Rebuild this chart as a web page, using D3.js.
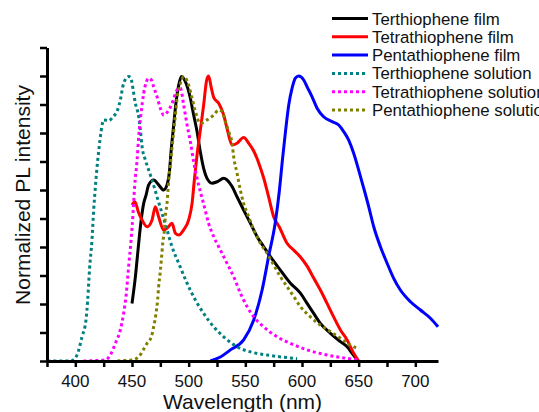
<!DOCTYPE html>
<html>
<head>
<meta charset="utf-8">
<script src="https://cdn.jsdelivr.net/npm/d3@7"></script>
<style>
  html, body { margin: 0; padding: 0; background: #fff; }
  svg { display: block; font-family: "Liberation Sans", Arial, sans-serif; }
</style>
</head>
<body>
<div id="chart"></div>
<script>
// ── Data (wavelength nm, normalized intensity) ──
const SERIES_NAMES = [
  "Terthiophene film",
  "Tetrathiophene film",
  "Pentathiophene film",
  "Terthiophene solution",
  "Tetrathiophene solution",
  "Pentathiophene solution"
];
const SERIES_COLORS = ["#000000", "#ff0000", "#0000ff", "#008080", "#ff00ff", "#808000"];
const SERIES_DOTTED = [false, false, false, true, true, true];

const X_TICKS = [375, 400, 425, 450, 475, 500, 525, 550, 575, 600, 625, 650, 675, 700];
const X_LABELS = [400, 450, 500, 550, 600, 650, 700];
const Y_TICKS = [0, 0.1, 0.2, 0.3, 0.4, 0.5, 0.6, 0.7, 0.8, 0.9, 1.0, 1.1];

const terFilm = [
  [450, 0.202], [453, 0.296], [455.3, 0.389], [457.4, 0.471], [460.3, 0.553],
  [462.4, 0.582], [464.7, 0.618], [469.1, 0.635], [473.5, 0.618], [477.9, 0.6],
  [480.9, 0.618], [483, 0.664], [484.7, 0.746], [486.8, 0.828], [488.9, 0.91],
  [491.2, 0.968], [493.6, 0.998], [497.1, 0.98], [501.5, 0.922], [504.4, 0.863],
  [507.4, 0.805], [510.3, 0.734], [513.2, 0.676], [516.2, 0.641], [520.6, 0.624],
  [525.1, 0.629], [530.9, 0.641], [533.9, 0.635], [538.3, 0.612], [542.7, 0.576],
  [548.5, 0.53], [554.5, 0.483], [560.4, 0.436], [566.2, 0.401], [572.1, 0.366],
  [580.9, 0.319], [589.8, 0.273], [598.6, 0.238], [604.5, 0.202], [610.3, 0.167],
  [616.2, 0.132], [625.1, 0.097], [633.9, 0.068], [639.8, 0.05], [644.2, 0.027],
  [648.6, 0.004]
];
const tetraFilm = [
  [450, 0.547], [452.6, 0.559], [455.6, 0.523], [458.9, 0.495], [463.3, 0.471],
  [467.7, 0.495], [470.6, 0.541], [473.5, 0.506], [477.9, 0.46], [481.2, 0.467],
  [485.3, 0.483], [488.3, 0.448], [491.2, 0.442], [495.6, 0.46], [500, 0.495],
  [503, 0.553], [505, 0.635], [507.4, 0.723], [510.3, 0.81], [513.2, 0.898],
  [515.9, 0.986], [517.6, 1.0], [519.8, 0.962], [522.1, 0.925], [526.5, 0.904],
  [530.9, 0.863], [534.2, 0.81], [538.3, 0.758], [542.7, 0.764], [548.5, 0.784],
  [553, 0.764], [557.4, 0.737], [561.8, 0.695], [566.2, 0.642], [570.6, 0.575],
  [575, 0.506], [580, 0.47], [586.8, 0.413], [592.7, 0.389], [598.6, 0.365],
  [604.5, 0.333], [610.3, 0.291], [616.2, 0.249], [622.1, 0.202], [628, 0.154],
  [633.9, 0.109], [639.8, 0.074], [645.6, 0.027], [650, 0]
];
const pentaFilm = [
  [519.1, 0], [528, 0.014], [536.8, 0.039], [548.5, 0.074], [557.4, 0.144],
  [564.8, 0.249], [570.6, 0.368], [576.5, 0.488], [580.1, 0.6], [582.7, 0.705],
  [585.4, 0.804], [588.3, 0.898], [591.3, 0.958], [594.2, 0.993], [597.1, 1.0],
  [601.5, 0.986], [604.5, 0.962], [608.9, 0.927], [613.3, 0.887], [619.1, 0.857],
  [626.6, 0.84], [632.4, 0.828], [636.8, 0.805], [641.2, 0.775], [645.6, 0.729],
  [650, 0.67], [654.5, 0.606], [658.9, 0.541], [663.3, 0.471], [669.2, 0.401],
  [675.1, 0.343], [680.9, 0.29], [686.8, 0.249], [695.7, 0.208], [704.5, 0.179],
  [713.3, 0.15], [720, 0.12]
];
const terSol = [
  [375.3, 0], [395.6, 0], [398.2, 0.004], [401.5, 0.021], [405.9, 0.085],
  [409.4, 0.144], [410.9, 0.214], [412.6, 0.326], [414.7, 0.425], [416.2, 0.53],
  [417.7, 0.612], [419.2, 0.682], [420.9, 0.747], [422.7, 0.805], [425, 0.846],
  [429.4, 0.843], [433.3, 0.857], [437.3, 0.881], [439.7, 0.916], [442.6, 0.974],
  [447, 0.998], [448.5, 0.996], [453, 0.904], [455.9, 0.857], [457.4, 0.81],
  [458.9, 0.752], [461.8, 0.705], [464.7, 0.67], [467.7, 0.635], [472.1, 0.576],
  [476.5, 0.518], [480.9, 0.46], [485.3, 0.401], [491.2, 0.343], [498.6, 0.273],
  [505.9, 0.214], [513.2, 0.167], [522.1, 0.12], [530.9, 0.085], [542.7, 0.05],
  [557.4, 0.029], [569.2, 0.021], [595.7, 0.008]
];
const tetraSol = [
  [407.1, 0], [426.5, 0.004], [430.9, 0.021], [435.3, 0.062], [439.7, 0.109],
  [442.6, 0.167], [445, 0.238], [447, 0.331], [449.2, 0.425], [450.9, 0.518],
  [452.3, 0.612], [454.5, 0.705], [455.9, 0.787], [458, 0.869], [460.3, 0.939],
  [462.7, 0.98], [464.7, 0.992], [467.1, 0.986], [469.1, 0.962], [472.1, 0.927],
  [475, 0.887], [477.9, 0.863], [481.5, 0.875], [485.3, 0.904], [489.8, 0.951],
  [492.7, 0.958], [495.6, 0.898], [498.6, 0.828], [501.5, 0.769], [504.4, 0.699],
  [507.4, 0.641], [510.3, 0.594], [513.2, 0.551], [517.6, 0.483], [522.1, 0.436],
  [526.5, 0.401], [530.9, 0.366], [535.3, 0.331], [539.7, 0.296], [545.6, 0.238],
  [551.5, 0.191], [557.4, 0.155], [566.2, 0.12], [578, 0.085], [589.8, 0.062],
  [604.5, 0.039], [622.2, 0.021], [639.8, 0.009], [648.6, 0.004]
];
const pentaSol = [
  [437.1, 0], [444.1, 0.002], [451.2, 0.004], [455.9, 0.015], [463.3, 0.062],
  [467.1, 0.085], [469.1, 0.12], [471.2, 0.167], [472.6, 0.214], [473.5, 0.261],
  [474.8, 0.308], [475.9, 0.354], [477.1, 0.413], [478.6, 0.46], [479.4, 0.506],
  [480.9, 0.553], [482.3, 0.629], [483.8, 0.688], [485.3, 0.746], [486.8, 0.805],
  [488.3, 0.863], [489.8, 0.922], [492.7, 0.974], [495.6, 0.998], [500, 0.968],
  [503, 0.922], [505.9, 0.875], [510.3, 0.834], [516.2, 0.846], [522.1, 0.863],
  [526.5, 0.881], [529.5, 0.875], [532.4, 0.84], [535.3, 0.805], [538.3, 0.764],
  [539.7, 0.717], [542.7, 0.659], [545.6, 0.6], [548.5, 0.553], [553, 0.506],
  [557.4, 0.46], [563.3, 0.413], [569.2, 0.378], [575, 0.337], [580.9, 0.296],
  [586.8, 0.261], [592.7, 0.226], [598.6, 0.191], [607.4, 0.155], [616.2, 0.126],
  [625.1, 0.103], [633.9, 0.08], [642.7, 0.056], [648.6, 0.045]
];
const SERIES_DATA = [terFilm, tetraFilm, pentaFilm, terSol, tetraSol, pentaSol];

// ── Layout ──────────────────────────────────────────────────────
const W = 539, H = 412;
const plot = { left: 47, right: 438, top: 47.5, bottom: 361 };

const svg = d3.select("#chart").append("svg")
  .attr("width", W)
  .attr("height", H);

const x = d3.scaleLinear().domain([375, 720]).range([plot.left, plot.right]);
const y = d3.scaleLinear().domain([0, 1.1]).range([plot.bottom, plot.top]);

// ── Curves ──────────────────────────────────────────────────────
const line = d3.line()
  .x(d => x(d[0]))
  .y(d => y(d[1]))
  .curve(d3.curveMonotoneX);

const curves = svg.append("g");
SERIES_DATA.forEach(function (data, i) {
  curves.append("path")
    .datum(data)
    .attr("d", line)
    .attr("fill", "none")
    .attr("stroke", SERIES_COLORS[i])
    .attr("stroke-width", 3)
    .attr("stroke-linejoin", "round")
    .attr("stroke-dasharray", SERIES_DOTTED[i] ? "3,3" : null);
});

// ── Axes ────────────────────────────────────────────────────────
const xAxis = svg.append("g")
  .attr("transform", `translate(0,${plot.bottom})`)
  .call(d3.axisBottom(x).tickValues(X_TICKS).tickSize(6).tickSizeOuter(0).tickFormat(""));
const yAxis = svg.append("g")
  .attr("transform", `translate(${plot.left},0)`)
  .call(d3.axisLeft(y).tickValues(Y_TICKS).tickSize(7).tickSizeOuter(0).tickFormat(""));

[xAxis, yAxis].forEach(function (a) {
  a.select(".domain").attr("stroke", "#000").attr("stroke-width", 3);
  a.selectAll(".tick line").attr("stroke", "#000").attr("stroke-width", 2.5);
});

// x tick labels (every 50 nm)
svg.append("g").selectAll("text")
  .data(X_LABELS)
  .join("text")
  .attr("x", d => x(d))
  .attr("y", 387)
  .attr("text-anchor", "middle")
  .attr("font-size", 17)
  .attr("fill", "#111")
  .text(d => d);

// axis titles
svg.append("text")
  .attr("x", (plot.left + plot.right) / 2)
  .attr("y", 409)
  .attr("text-anchor", "middle")
  .attr("font-size", 21)
  .attr("fill", "#111")
  .text("Wavelength (nm)");

svg.append("text")
  .attr("transform", "translate(30,195) rotate(-90)")
  .attr("text-anchor", "middle")
  .attr("font-size", 21)
  .attr("fill", "#111")
  .text("Normalized PL intensity");

// ── Legend (runs past the right edge, as in the original) ───────
const legend = svg.append("g");
SERIES_NAMES.forEach(function (name, i) {
  const ly = 18.5 + i * 18.3;
  legend.append("line")
    .attr("x1", 332).attr("x2", 368)
    .attr("y1", ly).attr("y2", ly)
    .attr("stroke", SERIES_COLORS[i])
    .attr("stroke-width", 3)
    .attr("stroke-dasharray", SERIES_DOTTED[i] ? "3,3" : null);
  legend.append("text")
    .attr("x", 372)
    .attr("y", ly + 6)
    .attr("font-size", 16.8)
    .attr("fill", "#111")
    .text(name);
});
</script>
</body>
</html>
